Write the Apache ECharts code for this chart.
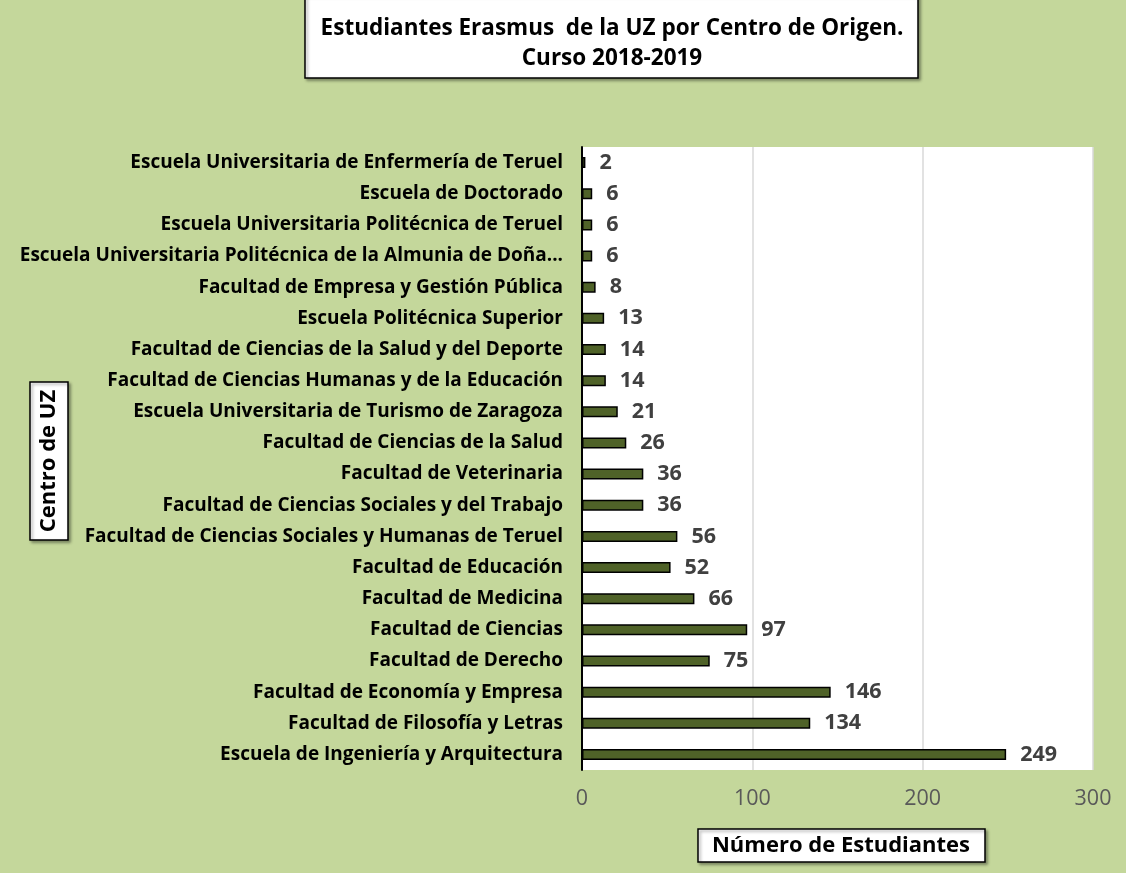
<!DOCTYPE html>
<html>
<head>
<meta charset="utf-8">
<script src="https://cdn.jsdelivr.net/npm/echarts@6/dist/echarts.min.js"></script>
<style>
  html, body { margin: 0; padding: 0; background: #c4d79b; }
  #chart { width: 1126px; height: 873px; }
</style>
</head>
<body>
<div id="chart"></div>
<script>
// categorías (de abajo hacia arriba)
var centros = [
  'Escuela de Ingeniería y Arquitectura',
  'Facultad de Filosofía y Letras',
  'Facultad de Economía y Empresa',
  'Facultad de Derecho',
  'Facultad de Ciencias',
  'Facultad de Medicina',
  'Facultad de Educación',
  'Facultad de Ciencias Sociales y Humanas de Teruel',
  'Facultad de Ciencias Sociales y del Trabajo',
  'Facultad de Veterinaria',
  'Facultad de Ciencias de la Salud',
  'Escuela Universitaria de Turismo de Zaragoza',
  'Facultad de Ciencias Humanas y de la Educación',
  'Facultad de Ciencias de la Salud y del Deporte',
  'Escuela Politécnica Superior',
  'Facultad de Empresa y Gestión Pública',
  'Escuela Universitaria Politécnica de la Almunia de Doña...',
  'Escuela Universitaria Politécnica de Teruel',
  'Escuela de Doctorado',
  'Escuela Universitaria de Enfermería de Teruel'
];
var estudiantes = [249, 134, 146, 75, 97, 66, 52, 56, 36, 36, 26, 21, 14, 14, 13, 8, 6, 6, 6, 2];

var tituloLineas = ['Estudiantes Erasmus  de la UZ por Centro de Origen.', 'Curso 2018-2019'];
var nombreEjeX = 'Número de Estudiantes';
var nombreEjeY = 'Centro de UZ';

var fuente = '"Open Sans", Lato, sans-serif';
var myChart = echarts.init(document.getElementById('chart'), null, { renderer: 'canvas' });

var sombra = { shadowBlur: 3, shadowOffsetX: 2, shadowOffsetY: 2, shadowColor: 'rgba(0,0,0,0.35)' };

var option = {
  backgroundColor: '#c4d79b',
  animation: false,
  textStyle: { fontFamily: fuente },
  grid: { left: 582, right: 33, top: 147, bottom: 103, containLabel: false, show: true, backgroundColor: '#ffffff', borderWidth: 0 },
  xAxis: {
    type: 'value',
    min: 0,
    max: 300,
    interval: 100,
    axisLine: { show: false },
    axisTick: { show: false },
    axisLabel: { color: '#595959', fontSize: 21.5, margin: 18, fontFamily: fuente },
    splitLine: { show: true, lineStyle: { color: '#d9d9d9', width: 1.5 } }
  },
  yAxis: {
    type: 'category',
    data: centros,
    axisLine: { show: true, lineStyle: { color: '#000000', width: 2 } },
    axisTick: { show: false },
    axisLabel: { color: '#000000', fontSize: 19, fontWeight: 'bold', margin: 19, fontFamily: fuente },
    splitLine: { show: false }
  },
  series: [{
    type: 'bar',
    data: estudiantes,
    barWidth: 11,
    itemStyle: { color: '#4f6228', borderColor: '#000000', borderWidth: 1.5 },
    label: {
      show: true,
      position: 'right',
      distance: 14,
      color: '#404040',
      fontSize: 21.5,
      fontWeight: 'bold',
      fontFamily: fuente
    }
  }],
  graphic: [
    // caja del título
    {
      type: 'rect',
      shape: { x: 305, y: -5, width: 613, height: 83 },
      style: Object.assign({ fill: '#ffffff', stroke: '#000000', lineWidth: 1.5 }, sombra),
      z: 10
    },
    {
      type: 'text',
      x: 612, y: 29,
      style: { text: tituloLineas[0], fill: '#000000', font: 'bold 22.5px ' + fuente, align: 'center', verticalAlign: 'middle' },
      z: 11
    },
    {
      type: 'text',
      x: 612, y: 59,
      style: { text: tituloLineas[1], fill: '#000000', font: 'bold 22.5px ' + fuente, align: 'center', verticalAlign: 'middle' },
      z: 11
    },
    // nombre del eje Y
    {
      type: 'rect',
      shape: { x: 30, y: 382, width: 38, height: 158 },
      style: Object.assign({ fill: '#ffffff', stroke: '#000000', lineWidth: 1.5 }, sombra),
      z: 10
    },
    {
      type: 'text',
      x: 49, y: 461,
      rotation: Math.PI / 2,
      style: { text: nombreEjeY, fill: '#000000', font: 'bold 22px ' + fuente, align: 'center', verticalAlign: 'middle' },
      z: 11
    },
    // nombre del eje X
    {
      type: 'rect',
      shape: { x: 698, y: 829, width: 287, height: 33 },
      style: Object.assign({ fill: '#ffffff', stroke: '#000000', lineWidth: 1.5 }, sombra),
      z: 10
    },
    {
      type: 'text',
      x: 841, y: 846,
      style: { text: nombreEjeX, fill: '#000000', font: 'bold 22px ' + fuente, align: 'center', verticalAlign: 'middle' },
      z: 11
    }
  ]
};

myChart.setOption(option);
</script>
</body>
</html>
